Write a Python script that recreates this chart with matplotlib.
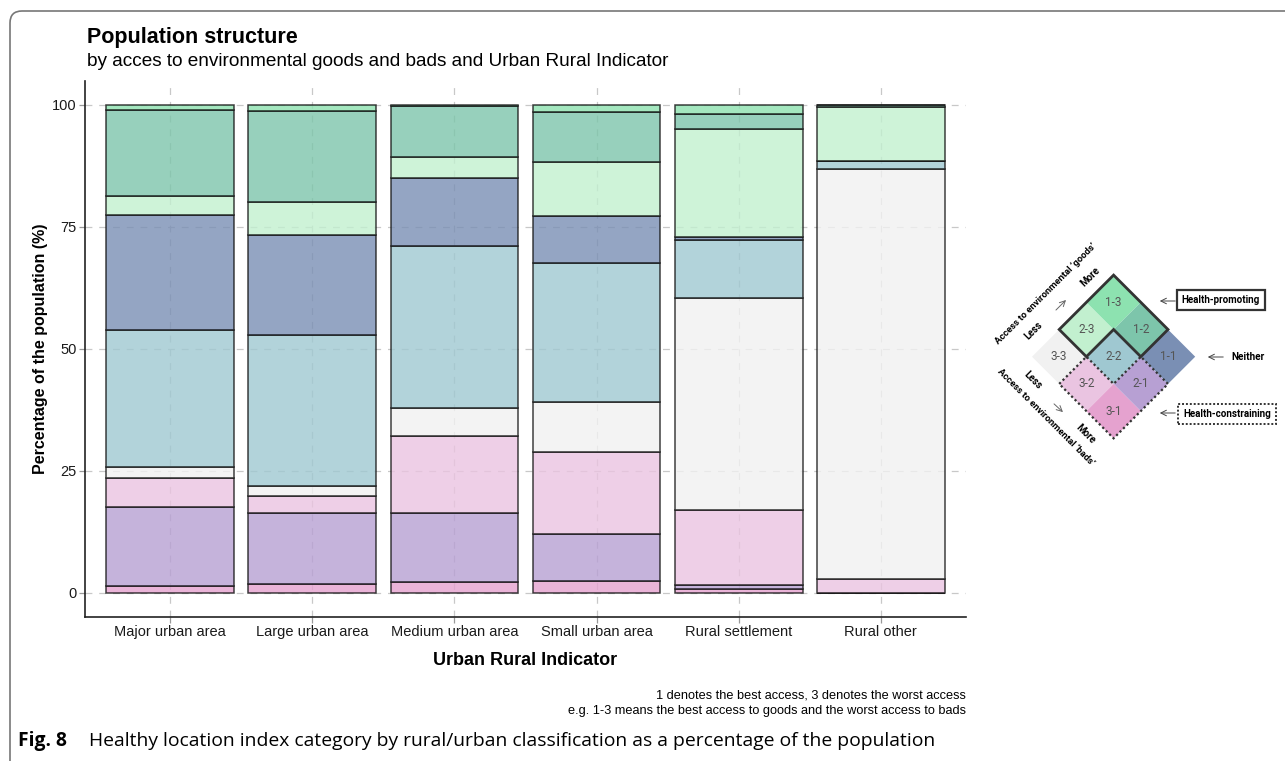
# Population structure by healthy location index category (stacked bars + bivariate key)

import matplotlib
matplotlib.use("Agg")
import matplotlib.pyplot as plt
from matplotlib.patches import Polygon, FancyBboxPatch
from matplotlib.transforms import IdentityTransform

areas = ["Major urban area", "Large urban area", "Medium urban area",
         "Small urban area", "Rural settlement", "Rural other"]

# stacking order, bottom to top
classes = ["3-1", "2-1", "3-2", "3-3", "2-2", "1-1", "2-3", "1-2", "1-3"]

share_3_1 = [1.3, 1.7, 2.1, 2.3, 0.7, 0.0]
share_2_1 = [16.2, 14.7, 14.2, 9.8, 0.9, 0.0]
share_3_2 = [6.0, 3.4, 15.9, 16.8, 15.3, 2.7]
share_3_3 = [2.2, 2.0, 5.6, 10.2, 43.5, 84.2]
share_2_2 = [28.1, 31.0, 33.2, 28.5, 12.0, 1.6]
share_1_1 = [23.6, 20.5, 14.1, 9.6, 0.5, 0.0]
share_2_3 = [3.9, 6.8, 4.2, 11.2, 22.2, 11.1]
share_1_2 = [17.7, 18.7, 10.4, 10.1, 3.1, 0.3]
share_1_3 = [1.0, 1.2, 0.3, 1.5, 1.8, 0.1]

shares = [share_3_1, share_2_1, share_3_2, share_3_3, share_2_2,
          share_1_1, share_2_3, share_1_2, share_1_3]

palette = {
    "1-3": "#8de2b0", "1-2": "#7dc5ab", "1-1": "#7a8fb4",
    "2-3": "#c2f0cf", "2-2": "#9fc8d1", "2-1": "#b7a0d3",
    "3-3": "#f1f1f1", "3-2": "#eac4e1", "3-1": "#e5a2cf",
}

yticks = [0, 25, 50, 75, 100]

plt.rcParams["font.family"] = ["Liberation Sans", "DejaVu Sans"]

W, H = 1285, 761
fig = plt.figure(figsize=(W / 100, H / 100), dpi=100)

# ---- main chart
ax = fig.add_axes([85 / W, (H - 617) / H, (966 - 85) / W, (617 - 80.6) / H])
ax.set_xlim(0.4, 6.6)
ax.set_ylim(-5, 105)

x = list(range(1, len(areas) + 1))
bottom = [0.0] * len(areas)
for cls, vals in zip(classes, shares):
    ax.bar(x, vals, bottom=bottom, width=0.9, color=palette[cls], alpha=0.8,
           edgecolor="#111111", linewidth=1.1, zorder=2)
    bottom = [b + v for b, v in zip(bottom, vals)]

ax.set_xticks(x)
ax.set_xticklabels(areas, fontsize=10.5, color="#1a1a1a")
ax.set_yticks(yticks)
ax.set_yticklabels([str(t) for t in yticks], fontsize=10.5, color="#1a1a1a")
ax.tick_params(axis="both", length=4.5, width=0.9, color="#999999", pad=1.5)
ax.grid(True, color="#c8c8c8", linestyle=(0, (5.5, 5.5)), linewidth=0.9, zorder=0)
ax.set_axisbelow(True)
for s in ["top", "right"]:
    ax.spines[s].set_visible(False)
for s in ["left", "bottom"]:
    ax.spines[s].set_linewidth(1.2)
    ax.spines[s].set_color("#222222")

ax.set_xlabel("Urban Rural Indicator", fontsize=13, fontweight="bold", labelpad=9)
ax.set_ylabel("Percentage of the population (%)", fontsize=11.5, fontweight="bold",
              labelpad=3)

fig.text(87 / W, 1 - 37 / H, "Population structure", fontsize=15.5,
         fontweight="bold", va="center", ha="left")
fig.text(87 / W, 1 - 62 / H,
         "by acces to environmental goods and bads and Urban Rural Indicator",
         fontsize=13.7, va="center", ha="left")

fig.text(966 / W, 1 - 695 / H,
         "1 denotes the best access, 3 denotes the worst access",
         fontsize=9.2, ha="right", va="center")
fig.text(966 / W, 1 - 711 / H,
         "e.g. 1-3 means the best access to goods and the worst access to bads",
         fontsize=9.2, ha="right", va="center")

# caption and frame
cf = ["Open Sans", "DejaVu Sans"]
fig.text(18 / W, 1 - 741 / H, "Fig. 8", fontsize=13.9, fontweight="bold",
         ha="left", va="center", family=cf)
fig.text(89 / W, 1 - 741 / H,
         "Healthy location index category by rural/urban classification as a percentage of the population",
         fontsize=13.9, ha="left", va="center", family=cf)

frame = FancyBboxPatch((10, -20), 1320, H - 11 + 20,
                       boxstyle="round,pad=0,rounding_size=12",
                       transform=IdentityTransform(), fill=False,
                       edgecolor="#777777", linewidth=1.2)
fig.add_artist(frame)

# ---- bivariate key (axes in pixel coordinates)
lg = fig.add_axes([980 / W, (H - 485) / H, 305 / W, 240 / H])
lg.set_xlim(980, 1285)
lg.set_ylim(485, 245)
lg.axis("off")

x0, y0, h = 1032, 356.7, 27.2


def P(i, j):
    return (x0 + h * (i + j), y0 - h * (i - j))


kf = ["Roboto", "DejaVu Sans"]
for i in range(3):
    for j in range(3):
        cls = f"{3 - i}-{3 - j}"
        corners = [P(i, j), P(i + 1, j), P(i + 1, j + 1), P(i, j + 1)]
        lg.add_patch(Polygon(corners, closed=True, facecolor=palette[cls],
                             edgecolor="none"))
        cx, cy = P(i + 0.5, j + 0.5)
        lg.text(cx, cy, cls, ha="center", va="center", fontsize=8.5,
                color="#555555", family=kf)

promo = [P(1, 0), P(3, 0), P(3, 2), P(2, 2), P(2, 1), P(1, 1)]
lg.add_patch(Polygon(promo, closed=True, fill=False, edgecolor="#333333",
                     linewidth=2.0, joinstyle="miter"))
constr = [P(0, 1), P(1, 1), P(1, 2), P(2, 2), P(2, 3), P(0, 3)]
lg.add_patch(Polygon(constr, closed=True, fill=False, edgecolor="#333333",
                     linewidth=1.6, linestyle=(0, (1, 1.2))))

lg.text(1046, 294, "Access to environmental \u2018goods\u2019", rotation=45,
        ha="center", va="center", fontsize=6.8, fontweight="bold", family=kf)
lg.text(1034, 331, "Less", rotation=45, ha="center", va="center",
        fontsize=7, fontweight="bold", family=kf)
lg.text(1090, 277, "More", rotation=45, ha="center", va="center",
        fontsize=7, fontweight="bold", family=kf)
lg.annotate("", xy=(1068, 298), xytext=(1054, 312),
            arrowprops=dict(arrowstyle="->", lw=0.7, color="#666666"))

lg.text(1046, 417, "Access to environmental \u2018bads\u2019", rotation=-45,
        ha="center", va="center", fontsize=6.8, fontweight="bold", family=kf)
lg.text(1033, 380, "Less", rotation=-45, ha="center", va="center",
        fontsize=7, fontweight="bold", family=kf)
lg.text(1086, 434, "More", rotation=-45, ha="center", va="center",
        fontsize=7, fontweight="bold", family=kf)
lg.annotate("", xy=(1065, 414), xytext=(1052, 402),
            arrowprops=dict(arrowstyle="->", lw=0.7, color="#666666"))

lg.text(1221, 300, "Health-promoting", ha="center", va="center", fontsize=7.0,
        fontweight="bold", family=kf,
        bbox=dict(boxstyle="square,pad=0.5", fc="white", ec="#333333", lw=1.6))
lg.annotate("", xy=(1157, 301), xytext=(1178, 301),
            arrowprops=dict(arrowstyle="->", lw=0.7, color="#444444"))

lg.text(1248, 357, "Neither", ha="center", va="center", fontsize=7.2,
        fontweight="bold", family=kf)
lg.annotate("", xy=(1205, 357), xytext=(1226, 357),
            arrowprops=dict(arrowstyle="->", lw=0.7, color="#444444"))

lg.text(1227, 414, "Health-constraining", ha="center", va="center", fontsize=7.0,
        fontweight="bold", family=kf,
        bbox=dict(boxstyle="square,pad=0.5", fc="white", ec="#333333", lw=1.4,
                  linestyle=(0, (1, 1))))
lg.annotate("", xy=(1157, 413), xytext=(1178, 413),
            arrowprops=dict(arrowstyle="->", lw=0.7, color="#444444"))

fig.savefig("out.png", dpi=100)
